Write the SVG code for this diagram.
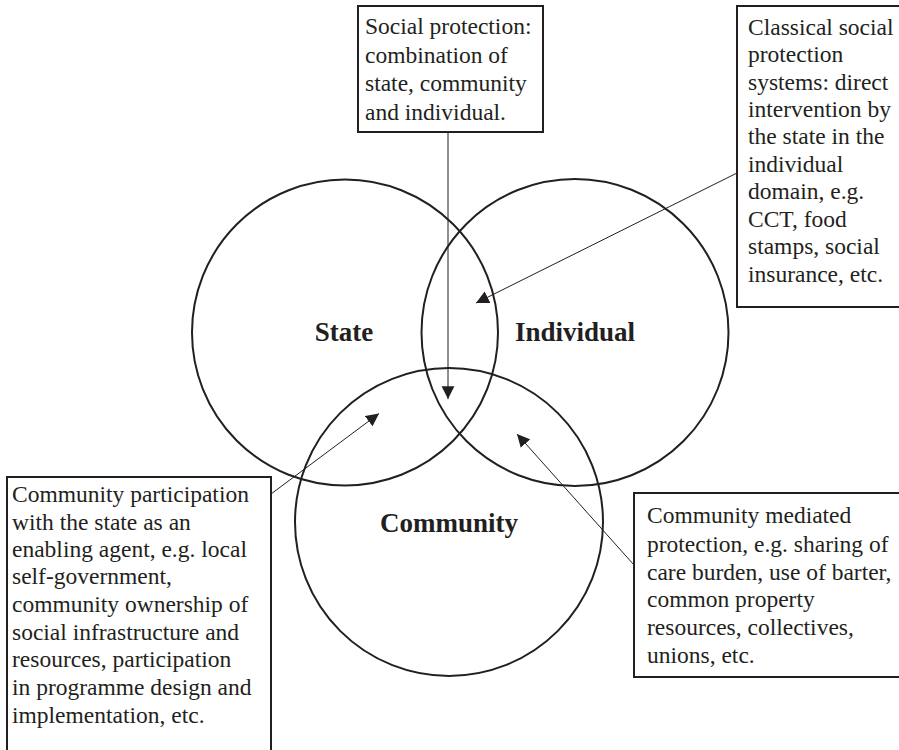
<svg xmlns="http://www.w3.org/2000/svg" width="899" height="750" viewBox="0 0 899 750">
  <defs>
    <marker id="arrow" markerUnits="userSpaceOnUse" markerWidth="14" markerHeight="14" viewBox="0 0 12 12" refX="11" refY="6" orient="auto">
      <path d="M0,0.5 L11,6 L0,11.5 Z" fill="#231f20"/>
    </marker>
  </defs>
  <style>
    .circle { fill: none; stroke: #231f20; stroke-width: 2; }
    .box { fill: #ffffff; stroke: #231f20; stroke-width: 2; }
    .note { font-family: "Liberation Serif", "Times New Roman", serif; font-size: 23.5px; fill: #231f20; }
    .label { font-family: "Liberation Serif", "Times New Roman", serif; font-size: 27px; font-weight: bold; fill: #231f20; }
    .link { stroke: #231f20; stroke-width: 1; fill: none; marker-end: url(#arrow); }
  </style>
  <rect width="899" height="750" fill="#ffffff"/>

  <!-- Venn circles -->
  <g id="state">
    <circle class="circle" cx="345" cy="332.5" r="153"/>
    <text class="label" x="344" y="341" text-anchor="middle">State</text>
  </g>
  <g id="individual">
    <circle class="circle" cx="575" cy="332.5" r="153.5"/>
    <text class="label" x="515" y="341">Individual</text>
  </g>
  <g id="community">
    <circle class="circle" cx="449" cy="522" r="154"/>
    <text class="label" x="449" y="532" text-anchor="middle">Community</text>
  </g>

  <!-- Callout boxes -->
  <g id="social-protection">
    <rect class="box" x="358" y="6" width="185" height="126"/>
    <text class="note">
      <tspan x="365" y="34">Social protection:</tspan>
      <tspan x="365" y="63">combination of</tspan>
      <tspan x="365" y="91">state, community</tspan>
      <tspan x="365" y="120">and individual.</tspan>
    </text>
  </g>
  <g id="classical">
    <rect class="box" x="737" y="6" width="170" height="301"/>
    <text class="note">
      <tspan x="748" y="35">Classical social</tspan>
      <tspan x="748" y="62">protection</tspan>
      <tspan x="748" y="90">systems: direct</tspan>
      <tspan x="748" y="117">intervention by</tspan>
      <tspan x="748" y="144">the state in the</tspan>
      <tspan x="748" y="172">individual</tspan>
      <tspan x="748" y="199">domain, e.g.</tspan>
      <tspan x="748" y="227">CCT, food</tspan>
      <tspan x="748" y="254">stamps, social</tspan>
      <tspan x="748" y="282">insurance, etc.</tspan>
    </text>
  </g>
  <g id="community-participation">
    <rect class="box" x="7" y="477" width="264" height="290"/>
    <text class="note">
      <tspan x="12" y="502">Community participation</tspan>
      <tspan x="12" y="530">with the state as an</tspan>
      <tspan x="12" y="557">enabling agent, e.g. local</tspan>
      <tspan x="12" y="584">self-government,</tspan>
      <tspan x="12" y="612">community ownership of</tspan>
      <tspan x="12" y="640">social infrastructure and</tspan>
      <tspan x="12" y="667">resources, participation</tspan>
      <tspan x="12" y="695">in programme design and</tspan>
      <tspan x="12" y="723">implementation, etc.</tspan>
    </text>
  </g>
  <g id="community-mediated">
    <rect class="box" x="634" y="493" width="280" height="184"/>
    <text class="note">
      <tspan x="647" y="523">Community mediated</tspan>
      <tspan x="647" y="552">protection, e.g. sharing of</tspan>
      <tspan x="647" y="580">care burden, use of barter,</tspan>
      <tspan x="647" y="607">common property</tspan>
      <tspan x="647" y="635">resources, collectives,</tspan>
      <tspan x="647" y="663">unions, etc.</tspan>
    </text>
  </g>

  <!-- Connectors -->
  <g id="connectors">
    <line class="link" x1="448" y1="132" x2="448" y2="399"/>
    <line class="link" x1="737" y1="173" x2="476" y2="303"/>
    <line class="link" x1="271" y1="494" x2="379" y2="413.5"/>
    <line class="link" x1="634" y1="565" x2="517" y2="434"/>
  </g>
</svg>
